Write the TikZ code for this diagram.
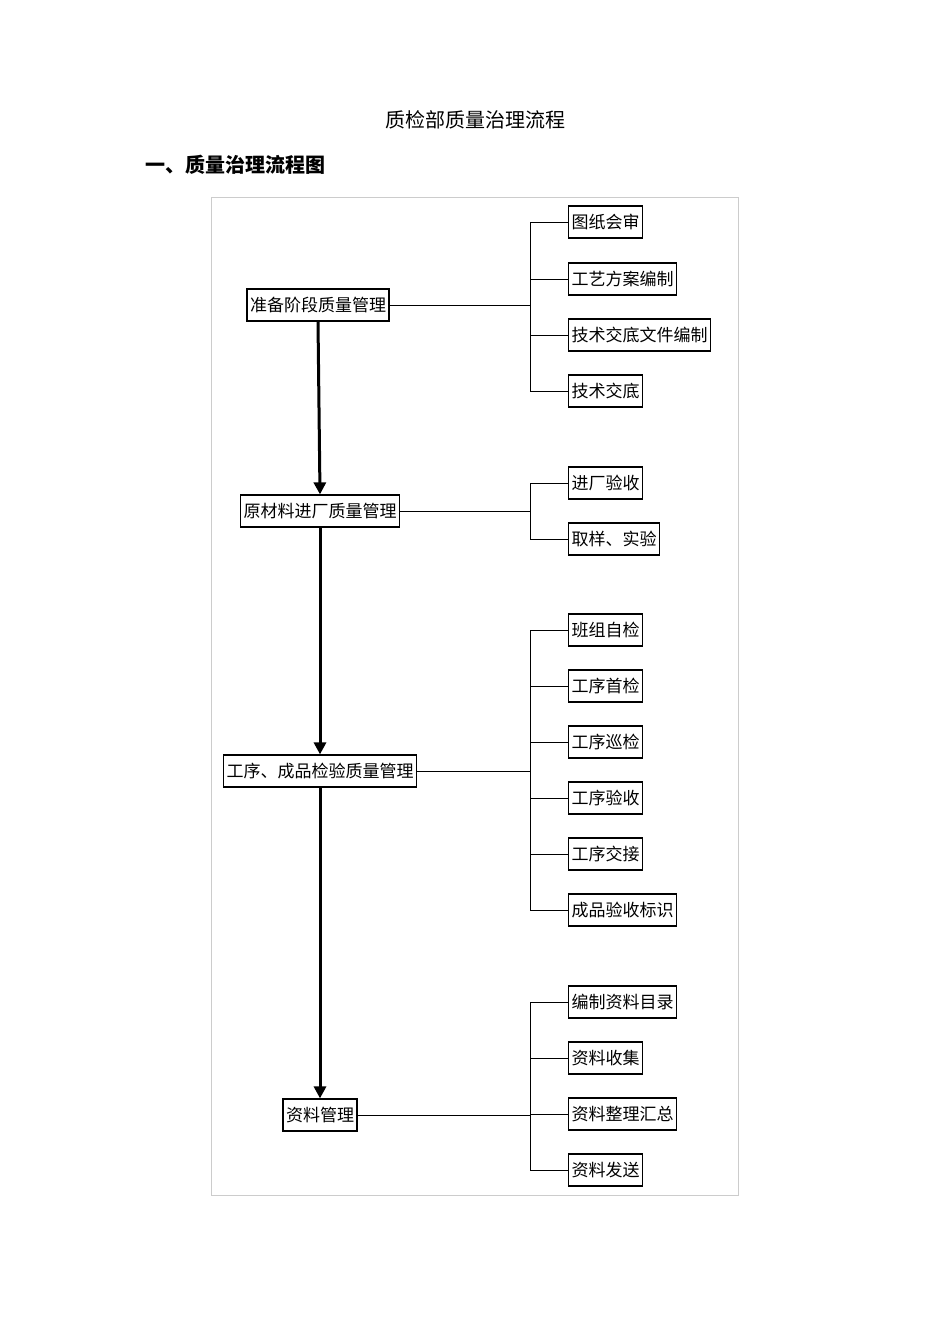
\documentclass[tikz,border=0pt]{standalone}
\usepackage{fontspec}
\setmainfont{Noto Sans CJK SC}
\usetikzlibrary{positioning,arrows.meta}
\begin{document}
\begin{tikzpicture}[x=1pt,y=-1pt,
	mainbox/.style={draw, line width=1.2pt, inner xsep=3pt, minimum height=32pt, font=\fontsize{17}{20}\selectfont},
	subbox/.style={draw, line width=1.2pt, inner xsep=3pt, minimum height=32pt, anchor=west, font=\fontsize{17}{20}\selectfont},
	link/.style={line width=0.6pt},
	bar/.style={line width=1pt},
	flow/.style={-{Triangle[length=12pt,width=12pt]}, line width=3pt},
	]
	
	%-----------------------
	% Page and frame
	%-----------------------
	\path[use as bounding box] (0,0) rectangle (950,1344);
	\draw[gray!40, line width=0.6pt] (211,197) rectangle (738,1195);
	\node[font=\fontsize{20}{24}\selectfont] (title) at (475,120) {质检部质量治理流程};
	\node[font=\bfseries\fontsize{20}{24}\selectfont, anchor=west] (head) at (142,165) {一、质量治理流程图};
	
	%-----------------------
	% Main stages
	%-----------------------
	\node[mainbox] (M1) at (318,305) {准备阶段质量管理};
	\node[mainbox] (M2) at (320,511) {原材料进厂质量管理};
	\node[mainbox] (M3) at (320,771) {工序、成品检验质量管理};
	\node[mainbox] (M4) at (320,1115) {资料管理};
	
	\draw[flow] (M1.south) -- (M2.north);
	\draw[flow] (M2.south) -- (M3.north);
	\draw[flow] (M3.south) -- (M4.north);
	
	%-----------------------
	% Sub steps
	%-----------------------
	\def\xbar{530}
	\def\xsub{568}
	
	% group 1
	\node[subbox] (A1) at (\xsub,222) {图纸会审};
	\node[subbox] (A2) at (\xsub,279) {工艺方案编制};
	\node[subbox] (A3) at (\xsub,335) {技术交底文件编制};
	\node[subbox] (A4) at (\xsub,391) {技术交底};
	
	% group 2
	\node[subbox] (B1) at (\xsub,483) {进厂验收};
	\node[subbox] (B2) at (\xsub,539) {取样、实验};
	
	% group 3
	\node[subbox] (C1) at (\xsub,630) {班组自检};
	\node[subbox] (C2) at (\xsub,686) {工序首检};
	\node[subbox] (C3) at (\xsub,742) {工序巡检};
	\node[subbox] (C4) at (\xsub,798) {工序验收};
	\node[subbox] (C5) at (\xsub,854) {工序交接};
	\node[subbox] (C6) at (\xsub,910) {成品验收标识};
	
	% group 4
	\node[subbox] (D1) at (\xsub,1002) {编制资料目录};
	\node[subbox] (D2) at (\xsub,1058) {资料收集};
	\node[subbox] (D3) at (\xsub,1114) {资料整理汇总};
	\node[subbox] (D4) at (\xsub,1170) {资料发送};
	
	%-----------------------
	% Connections
	%-----------------------
	\foreach \m/\first/\last/\list in {M1/A1/A4/{A1,A2,A3,A4}, M2/B1/B2/{B1,B2}, M3/C1/C6/{C1,C2,C3,C4,C5,C6}, M4/D1/D4/{D1,D2,D3,D4}} {
		\coordinate (\m-top) at (\xbar,0 |- \first.west);
		\coordinate (\m-bot) at (\xbar,0 |- \last.west);
		\draw[bar] (\m-top) -- (\m-bot);
		\draw[link] (\m.east) -- (\m.east -| \m-top);
		\foreach \s in \list
			\draw[link] (\s.west -| \m-top) -- (\s.west);
	}
	
\end{tikzpicture}
\end{document}
